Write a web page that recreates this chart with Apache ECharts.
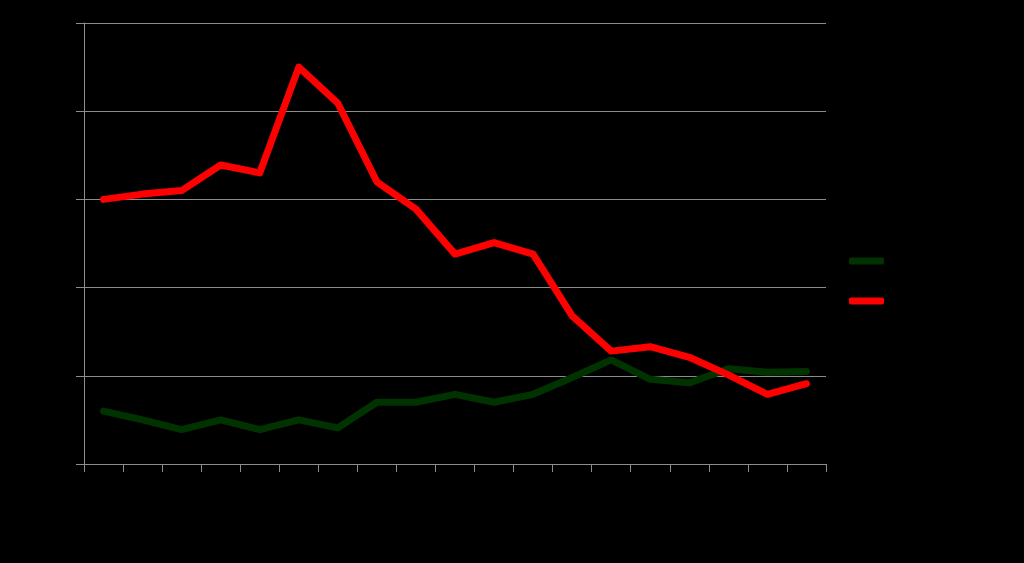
<!DOCTYPE html>
<html><head><meta charset="utf-8">
<script src="https://cdn.jsdelivr.net/npm/echarts@6/dist/echarts.min.js"></script>
<style>html,body{margin:0;padding:0;background:#000;}#c{width:1024px;height:563px;}</style>
</head><body><div id="c"></div>
<script>
const categories = ['1','2','3','4','5','6','7','8','9','10','11','12','13','14','15','16','17','18','19'];
const greenName = 'Series 1';
const redName = 'Series 2';
const greenValues = [6.0,5.0,3.9,5.0,3.9,5.0,4.1,7.0,7.0,7.9,7.0,7.9,9.8,11.8,9.6,9.2,10.8,10.4,10.5];
const redValues = [30.0,30.6,31.0,33.9,33.0,45.0,40.9,32.0,28.9,23.8,25.1,23.8,16.8,12.8,13.3,12.1,10.1,7.9,9.1];

const chart = echarts.init(document.getElementById('c'));
chart.setOption({
  backgroundColor: '#000',
  animation: false,
  grid: {left: 84, right: 198, top: 23, bottom: 99, containLabel: false},
  legend: {
    orient: 'vertical', left: 844, top: 250, itemWidth: 35, itemHeight: 7, itemGap: 28,
    icon: 'roundRect',
    textStyle: {color: '#000', fontSize: 12},
    data: [greenName, redName]
  },
  xAxis: {
    type: 'category', data: categories, boundaryGap: true,
    axisLine: {lineStyle: {color: '#8c8c8c', width: 1}},
    axisTick: {show: true, length: 8, lineStyle: {color: '#8c8c8c'}, alignWithLabel: false},
    axisLabel: {color: '#000'}
  },
  yAxis: {
    type: 'value', min: 0, max: 50, interval: 10,
    axisLine: {show: true, lineStyle: {color: '#8c8c8c', width: 1}},
    axisTick: {show: true, length: 8, lineStyle: {color: '#8c8c8c'}},
    splitLine: {lineStyle: {color: '#8c8c8c', width: 1}},
    axisLabel: {color: '#000'}
  },
  series: [
    {name: greenName, type: 'line', data: greenValues, symbol: 'none', lineStyle: {color: '#003300', width: 7, cap: 'round', join: 'round'}, itemStyle: {color: '#003300'}},
    {name: redName, type: 'line', data: redValues, symbol: 'none', lineStyle: {color: '#ff0000', width: 7, cap: 'round', join: 'round'}, itemStyle: {color: '#ff0000'}}
  ]
});
</script></body></html>
